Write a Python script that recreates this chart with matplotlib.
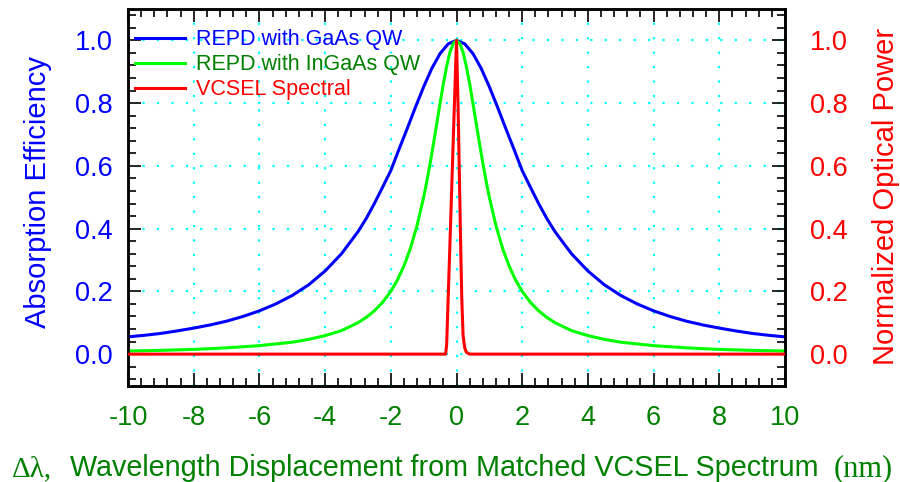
import matplotlib
matplotlib.use('Agg')
import matplotlib.pyplot as plt
from matplotlib.ticker import MultipleLocator, FormatStrFormatter

plt.rcParams['font.family'] = ['Liberation Sans', 'DejaVu Sans']
plt.rcParams['axes.unicode_minus'] = False

# ---- data ----
# REPD with GaAs QW (absorption efficiency)
gaas_x = [-10, -9.5, -9, -8.5, -8, -7.5, -7, -6.5, -6, -5.5, -5, -4.5, -4, -3.5, -3,
          -2.75, -2.5, -2.25, -2, -1.75, -1.5, -1.25, -1, -0.75, -0.5, -0.25, 0,
          0.25, 0.5, 0.75, 1, 1.25, 1.5, 1.75, 2, 2.25, 2.5, 2.75,
          3, 3.5, 4, 4.5, 5, 5.5, 6, 6.5, 7, 7.5, 8, 8.5, 9, 9.5, 10]
gaas_y = [0.055, 0.060, 0.066, 0.074, 0.083, 0.093, 0.105, 0.120, 0.138, 0.160, 0.187, 0.221, 0.265, 0.320, 0.390,
          0.432, 0.480, 0.532, 0.585, 0.653, 0.719, 0.787, 0.852, 0.911, 0.958, 0.989, 1.000,
          0.989, 0.958, 0.911, 0.852, 0.787, 0.719, 0.653, 0.585, 0.532, 0.480, 0.432,
          0.390, 0.320, 0.265, 0.221, 0.187, 0.160, 0.138, 0.120, 0.105, 0.093, 0.083, 0.074, 0.066, 0.060, 0.055]

# REPD with InGaAs QW (absorption efficiency)
ingaas_x = [-10, -9, -8, -7, -6, -5, -4.5, -4, -3.5, -3, -2.75, -2.5, -2.25, -2, -1.8, -1.6, -1.4, -1.2,
            -1.0, -0.9, -0.8, -0.7, -0.6, -0.5, -0.4, -0.3, -0.2, -0.1, 0,
            0.1, 0.2, 0.3, 0.4, 0.5, 0.6, 0.7, 0.8, 0.9, 1.0,
            1.2, 1.4, 1.6, 1.8, 2, 2.25, 2.5, 2.75, 3, 3.5, 4, 4.5, 5, 6, 7, 8, 9, 10]
ingaas_y = [0.010, 0.012, 0.015, 0.020, 0.027, 0.038, 0.047, 0.059, 0.075, 0.100, 0.117, 0.138, 0.165, 0.200, 0.236, 0.281, 0.338, 0.410,
            0.500, 0.552, 0.610, 0.671, 0.735, 0.800, 0.862, 0.917, 0.962, 0.990, 1.000,
            0.990, 0.962, 0.917, 0.862, 0.800, 0.735, 0.671, 0.610, 0.552, 0.500,
            0.410, 0.338, 0.281, 0.236, 0.200, 0.165, 0.138, 0.117, 0.100, 0.075, 0.059, 0.047, 0.038, 0.027, 0.020, 0.015, 0.012, 0.010]

# VCSEL spectrum (normalized optical power)
vcsel_x = [-10, -0.33, -0.30, -0.20, -0.10, 0, 0.05, 0.10, 0.13, 0.16, 0.20, 0.25, 0.30, 0.40, 10]
vcsel_y = [0, 0, 0.03, 0.35, 0.68, 1.0, 0.78, 0.50, 0.33, 0.18, 0.06, 0.02, 0.006, 0, 0]

labels = ['REPD with GaAs QW', 'REPD with InGaAs QW', 'VCSEL Spectral']

BLUE = '#0000ff'
LGREEN = '#00ff00'
DGREEN = '#008000'
RED = '#ff0000'
CYAN = '#00ffff'

fig = plt.figure(figsize=(9, 4.82), dpi=100)
ax = fig.add_axes([128 / 900, 1 - 385.5 / 482, 657 / 900, 376.5 / 482])
ax2 = ax.twinx()

l1, = ax.plot(gaas_x, gaas_y, color=BLUE, lw=2.2, zorder=3)
l2, = ax.plot(ingaas_x, ingaas_y, color=LGREEN, lw=2.2, zorder=4)
l3, = ax2.plot(vcsel_x, vcsel_y, color=RED, lw=2.2, zorder=5)

for a in (ax, ax2):
    a.set_xlim(-10, 10)
    a.set_ylim(-0.1, 1.1)
    a.yaxis.set_major_locator(MultipleLocator(0.2))
    a.yaxis.set_minor_locator(MultipleLocator(0.04))
    a.yaxis.set_major_formatter(FormatStrFormatter('%.1f'))
    for s in a.spines.values():
        s.set_linewidth(1.8)
        s.set_color('black')

ax.xaxis.set_major_locator(MultipleLocator(2))
ax.xaxis.set_minor_locator(MultipleLocator(0.4))

ax.grid(True, which='major', color=CYAN, linestyle=(0, (1, 5.5)), linewidth=1.6, zorder=1)

ax.tick_params(axis='both', which='both', direction='in', top=True, width=1.2)
ax.tick_params(which='major', length=9.5)
ax.tick_params(which='minor', length=6)
ax.tick_params(axis='x', labelsize=19.5, labelcolor=DGREEN, pad=14)
ax.tick_params(axis='y', labelsize=19.5, labelcolor=BLUE, pad=11)
ax2.tick_params(axis='y', which='both', direction='in', width=1.2, labelsize=19.5, labelcolor=RED, pad=18)
ax2.tick_params(axis='y', which='major', length=9.5)
ax2.tick_params(axis='y', which='minor', length=6)

leg = ax2.legend([l1, l2, l3], labels, loc='upper left',
                 bbox_to_anchor=(7 / 657, (385.5 - 29.5) / 376.5),
                 frameon=False, fontsize=15.5, handlelength=2.3, handletextpad=0.55,
                 labelspacing=0.18, borderaxespad=0, borderpad=0)
for txt, c in zip(leg.get_texts(), [BLUE, DGREEN, RED]):
    txt.set_color(c)

# axis titles
fig.text(38 / 900, 1 - 192 / 482, 'Absorption Efficiency', rotation=90,
         ha='center', va='center', fontsize=21, color=BLUE)
fig.text(886 / 900, 1 - 196 / 482, 'Normalized Optical Power', rotation=90,
         ha='center', va='center', fontsize=21, color=RED)

ybase = 1 - 476 / 482
fig.text(12 / 900, ybase, 'Δλ,', family=['Liberation Serif', 'DejaVu Serif'],
         fontsize=21, color=DGREEN, ha='left', va='baseline')
fig.text(70 / 900, ybase, 'Wavelength Displacement from Matched VCSEL Spectrum',
         fontsize=20.7, color=DGREEN, ha='left', va='baseline')
fig.text(834 / 900, ybase, '(nm)', family=['Liberation Serif', 'DejaVu Serif'],
         fontsize=22, color=DGREEN, ha='left', va='baseline')

fig.savefig('out.png', dpi=100, facecolor='white')
